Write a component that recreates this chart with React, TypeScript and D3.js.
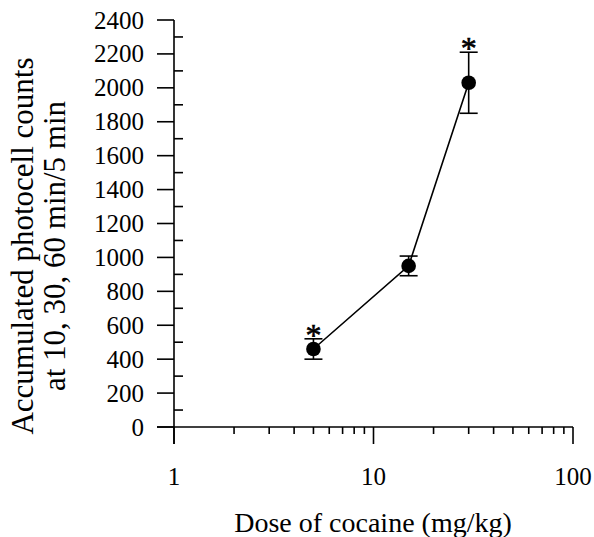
import React from "react";
import * as d3 from "d3";

const width = 594;
const height = 537;
const font = "'Liberation Serif', 'Times New Roman', serif";

// data
const doses = [5, 15, 30];
const means = [460, 950, 2030];
const errors = [60, 58, 180];
const starred = [true, false, true];

const yMajor = [0, 200, 400, 600, 800, 1000, 1200, 1400, 1600, 1800, 2000, 2200, 2400];
const yMinor = [100, 300, 500, 700, 900, 1100, 1300, 1500, 1700, 1900, 2100, 2300];
const xMajor = [1, 10, 100];
const xMinor = [2, 3, 4, 5, 6, 7, 8, 9, 20, 30, 40, 50, 60, 70, 80, 90];

const x = d3.scaleLog().domain([1, 100]).range([174, 573]);
const y = d3.scaleLinear().domain([0, 2400]).range([427, 20]);

const line = d3
  .line<number>()
  .x((d, i) => x(doses[i]))
  .y((d) => y(d));

export default function App() {
  const x0 = x.range()[0];
  const y0 = y.range()[0];
  return (
    <svg
      width={width}
      height={height}
      style={{ position: "absolute", left: 0, top: 0, background: "#fff" }}
      fontFamily={font}
    >
      {/* axes */}
      <g stroke="#000" strokeWidth={1.6} fill="none">
        <line x1={x0} x2={x0} y1={y(2400)} y2={y0 + 17} />
        <line x1={x0 - 17} x2={x(100)} y1={y0} y2={y0} />
        {yMajor.map((v) => (
          <line key={"ym" + v} x1={x0 - 17} x2={x0} y1={y(v)} y2={y(v)} />
        ))}
        {yMinor.map((v) => (
          <line key={"yn" + v} x1={x0} x2={x0 + 9} y1={y(v)} y2={y(v)} />
        ))}
        {xMajor.map((v) => (
          <line key={"xm" + v} x1={x(v)} x2={x(v)} y1={y0} y2={y0 + 17} />
        ))}
        {xMinor.map((v) => (
          <line key={"xn" + v} x1={x(v)} x2={x(v)} y1={y0} y2={y0 + 7} />
        ))}
      </g>

      <g fontSize={25} fill="#000">
        {yMajor.map((v) => (
          <text key={"yl" + v} x={x0 - 30} y={y(v)} dy="0.34em" textAnchor="end">
            {v}
          </text>
        ))}
        {xMajor.map((v) => (
          <text key={"xl" + v} x={x(v)} y={485} textAnchor="middle">
            {v}
          </text>
        ))}
      </g>

      <text x={373} y={532} fontSize={28} textAnchor="middle">
        Dose of cocaine (mg/kg)
      </text>
      <g transform="translate(0,246) rotate(-90)" fontSize={31} textAnchor="middle">
        <text x={0} y={33}>Accumulated photocell counts</text>
        <text x={0} y={65}>at 10, 30, 60 min/5 min</text>
      </g>

      {/* data */}
      <path d={line(means) || ""} fill="none" stroke="#000" strokeWidth={1.6} />
      <g stroke="#000" strokeWidth={1.6}>
        {doses.map((d, i) => (
          <g key={"e" + d}>
            <line x1={x(d)} x2={x(d)} y1={y(means[i] - errors[i])} y2={y(means[i] + errors[i])} />
            <line x1={x(d) - 9} x2={x(d) + 9} y1={y(means[i] + errors[i])} y2={y(means[i] + errors[i])} />
            <line x1={x(d) - 9} x2={x(d) + 9} y1={y(means[i] - errors[i])} y2={y(means[i] - errors[i])} />
          </g>
        ))}
      </g>
      {doses.map((d, i) => (
        <circle key={"c" + d} cx={x(d)} cy={y(means[i])} r={7.3} fill="#000" />
      ))}
      {doses.map((d, i) =>
        starred[i] ? (
          <text
            key={"s" + d}
            x={x(d)}
            y={y(means[i] + errors[i]) + 7}
            fontSize={32}
            textAnchor="middle"
            stroke="#000"
            strokeWidth={0.6}
          >
            *
          </text>
        ) : null
      )}
    </svg>
  );
}
